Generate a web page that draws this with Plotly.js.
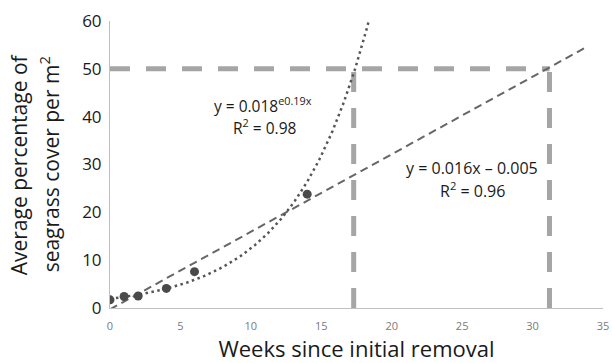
<!DOCTYPE html>
<html>
<head>
<meta charset="utf-8">
<script src="https://cdn.plot.ly/plotly-3.0.1.min.js"></script>
<style>html,body{margin:0;padding:0;background:#fff;}#chart{width:612px;height:363px;}</style>
</head>
<body>
<div id="chart"></div>
<script>
// Observed data
var weeks = [0, 1, 2, 4, 6, 14];
var cover = [1.7, 2.4, 2.5, 4.1, 7.6, 23.8];

// Reference (target) lines
var targetCover = 50;
var crossWeeks = [17.3, 31.2];

// Trendline extents
var expEndY = 60;
var linEndX = 33.9;

// Text
var xTitle = 'Weeks since initial removal';
var yTitleLines = ['Average percentage of', 'seagrass cover per m<sup>2</sup>'];
var expLabels = ["y = 0.018<sup>e0.19x</sup>", "R<sup>2</sup> = 0.98"];
var linLabels = ["y = 0.016x \u2013 0.005", "R<sup>2</sup> = 0.96"];

// Least-squares fits (as the spreadsheet trendlines do)
function linFit(xs, ys) {
  var n = xs.length, mx = 0, my = 0;
  for (var i = 0; i < n; i++) { mx += xs[i]; my += ys[i]; }
  mx /= n; my /= n;
  var sxx = 0, sxy = 0;
  for (var j = 0; j < n; j++) { sxx += (xs[j]-mx)*(xs[j]-mx); sxy += (xs[j]-mx)*(ys[j]-my); }
  var m = sxy / sxx;
  return {m: m, c: my - m * mx};
}
var lin = linFit(weeks, cover);
var expL = linFit(weeks, cover.map(function(v){ return Math.log(v); }));
var expA = Math.exp(expL.c), expB = expL.m;
var expEndX = Math.log(expEndY / expA) / expB;

var expX = [], expY = [];
for (var k = 0; k <= 200; k++) {
  var xv = expEndX * k / 200;
  expX.push(xv); expY.push(expA * Math.exp(expB * xv));
}
var linX = [0, linEndX];
var linY = linX.map(function(x){ return lin.m * x + lin.c; });

var refColor = '#a5a5a5';
var traces = [
  {x: [0, crossWeeks[1]], y: [targetCover, targetCover], mode: 'lines',
   line: {color: refColor, width: 5, dash: '20px,16px'}, hoverinfo: 'skip', showlegend: false},
  {x: [crossWeeks[0], crossWeeks[0]], y: [0, targetCover], mode: 'lines',
   line: {color: refColor, width: 5, dash: '20px,16px'}, hoverinfo: 'skip', showlegend: false},
  {x: [crossWeeks[1], crossWeeks[1]], y: [0, targetCover], mode: 'lines',
   line: {color: refColor, width: 5, dash: '20px,16px'}, hoverinfo: 'skip', showlegend: false},
  {x: linX, y: linY, mode: 'lines',
   line: {color: '#666666', width: 2, dash: '8px,5px'}, showlegend: false},
  {x: expX, y: expY, mode: 'lines',
   line: {color: '#555555', width: 2.5, dash: '2.5px,3.5px'}, showlegend: false},
  {x: weeks, y: cover, mode: 'markers',
   marker: {color: '#4a4a4a', size: 9}, showlegend: false}
];

var font = '"Open Sans", "Liberation Sans", sans-serif';
function eqAnn(x, y, text, size) {
  return {x: x, y: y, xref: 'x', yref: 'y', text: text, showarrow: false,
          xanchor: 'center', yanchor: 'middle', borderpad: 0,
          font: {size: size, color: '#1a1a1a', family: font}};
}
var layout = {
  width: 612, height: 363,
  margin: {l: 110, r: 9, t: 21, b: 55},
  paper_bgcolor: '#ffffff', plot_bgcolor: '#ffffff',
  font: {family: font, color: '#1a1a1a'},
  showlegend: false,
  xaxis: {
    range: [0, 35], dtick: 5, tick0: 0, automargin: false,
    showline: true, linecolor: '#c0c0c0', linewidth: 1,
    showgrid: false, zeroline: false, ticks: '',
    tickfont: {size: 11, color: '#7a7a7a', family: font},
    ticklabelstandoff: 8,
    title: {text: xTitle, font: {size: 22, color: '#1a1a1a', family: font}, standoff: 11}
  },
  yaxis: {
    range: [0, 60], dtick: 10, tick0: 0, automargin: false,
    showline: true, linecolor: '#c0c0c0', linewidth: 1,
    showgrid: false, zeroline: false, ticks: '',
    tickfont: {size: 17, color: '#1a1a1a', family: font},
    ticklabelstandoff: 4
  },
  annotations: [
    {x: -0.185, y: 0.5, xref: 'paper', yref: 'paper', text: yTitleLines[0], textangle: -90,
     showarrow: false, xanchor: 'center', yanchor: 'middle',
     font: {size: 21, color: '#1a1a1a', family: font}},
    {x: -0.122, y: 0.5, xref: 'paper', yref: 'paper', text: yTitleLines[1], textangle: -90,
     showarrow: false, xanchor: 'center', yanchor: 'middle',
     font: {size: 21, color: '#1a1a1a', family: font}},
    eqAnn(10.86, 42.44, expLabels[0], 15.5),
    eqAnn(11.0, 37.85, expLabels[1], 15.5),
    eqAnn(25.7, 29.27, linLabels[0], 16),
    eqAnn(25.77, 24.67, linLabels[1], 16)
  ]
};
Plotly.newPlot('chart', traces, layout, {displayModeBar: false, staticPlot: true});
</script>
</body>
</html>
